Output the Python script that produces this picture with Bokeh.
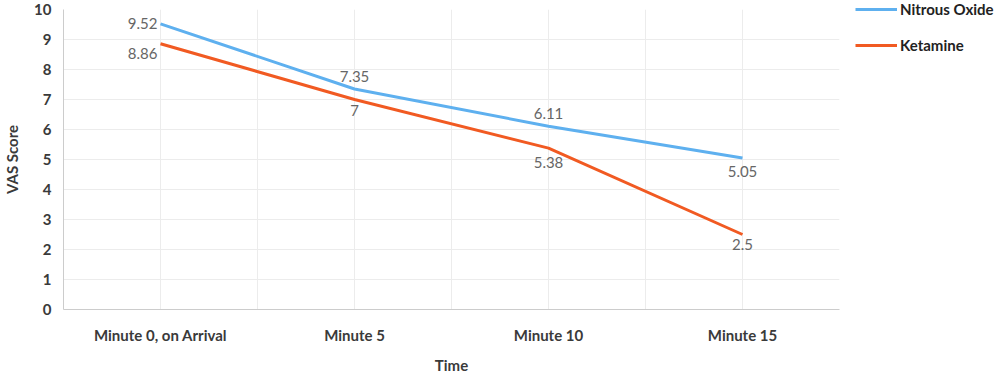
from bokeh.plotting import figure
from bokeh.models import ColumnDataSource, FixedTicker, Legend, LegendItem, Range1d
from bokeh.core.properties import value
from bokeh.embed import file_html
from bokeh.resources import INLINE

categories = ["Minute 0, on Arrival", "Minute 5", "Minute 10", "Minute 15"]
nitrous = [9.52, 7.35, 6.11, 5.05]
ketamine = [8.86, 7.0, 5.38, 2.5]
nitrous_labels = ["9.52", "7.35", "6.11", "5.05"]
ketamine_labels = ["8.86", "7", "5.38", "2.5"]
y_ticks = list(range(0, 11))

FONT = "Lato"
BLUE = "#5eb0ef"
ORANGE = "#f15a22"

xs = [i + 0.5 for i in range(len(categories))]

FRAME_H = 300
TOP = 9
LEG_H = 16 + 18 + 16

p = figure(frame_width=776, frame_height=FRAME_H, output_backend="svg", toolbar_location=None,
           x_range=Range1d(0, len(categories)), y_range=Range1d(0, 10),
           min_border_left=61, min_border_right=162, min_border_top=TOP, min_border_bottom=62)
p.outline_line_color = None
p.background_fill_color = "white"

# axes
p.xaxis.ticker = FixedTicker(ticks=xs)
p.xaxis.major_label_overrides = {x: c for x, c in zip(xs, categories)}
p.yaxis.ticker = FixedTicker(ticks=y_ticks)
for ax in (p.xaxis[0], p.yaxis[0]):
    ax.major_tick_line_color = None
    ax.major_tick_out = 0
    ax.major_tick_in = 0
    ax.minor_tick_line_color = None
    ax.minor_tick_out = 0
    ax.axis_line_color = "#cccccc"
    ax.major_label_text_font = FONT
    ax.major_label_text_font_size = "15px"
    ax.major_label_text_font_style = "bold"
    ax.major_label_text_color = "#3a3a3a"
    ax.axis_label_text_font = FONT
    ax.axis_label_text_font_size = "15px"
    ax.axis_label_text_font_style = "bold"
    ax.axis_label_text_color = "#3a3a3a"
p.xaxis.axis_label = "Time"
p.yaxis.axis_label = "VAS Score"
p.xaxis.major_label_standoff = 16
p.xaxis.axis_label_standoff = 9
p.yaxis.major_label_standoff = 12
p.yaxis.axis_label_standoff = 10

# grids
p.xgrid.ticker = FixedTicker(ticks=[i * 0.5 for i in range(2 * len(categories) + 1)])
p.xgrid.grid_line_color = "#ececec"
p.ygrid.grid_line_color = "#ececec"

src_n = ColumnDataSource(dict(x=xs, y=nitrous, t=nitrous_labels,
                              align=["right", "center", "center", "center"],
                              xo=[-3, 0, 0, 0], yo=[0, -13, -13, 13]))
src_k = ColumnDataSource(dict(x=xs, y=ketamine, t=ketamine_labels,
                              align=["right", "center", "center", "center"],
                              xo=[-3, 0, 0, 0], yo=[10, 11, 14, 10]))

ln = p.line("x", "y", source=src_n, line_color=BLUE, line_width=3)
lk = p.line("x", "y", source=src_k, line_color=ORANGE, line_width=3)

for s in (src_n, src_k):
    p.text("x", "y", text="t", source=s, text_align="align", text_baseline="middle",
           x_offset="xo", y_offset="yo", text_font=value(FONT), text_font_size="15px",
           text_color="#666666")

legend = Legend(items=[LegendItem(label="Nitrous Oxide", renderers=[ln]),
                       LegendItem(label="Ketamine", renderers=[lk])],
                location=(16, FRAME_H + TOP - LEG_H - 4), orientation="vertical")
legend.border_line_color = None
legend.background_fill_alpha = 0
legend.padding = 0
legend.margin = 0
legend.glyph_width = 42
legend.glyph_height = 16
legend.label_standoff = 3
legend.spacing = 18
legend.label_text_font = FONT
legend.label_text_font_size = "15px"
legend.label_text_font_style = "bold"
legend.label_text_color = "#222222"
legend.label_height = 16
p.add_layout(legend, "right")

open("out.html", "w").write(file_html(p, INLINE))
